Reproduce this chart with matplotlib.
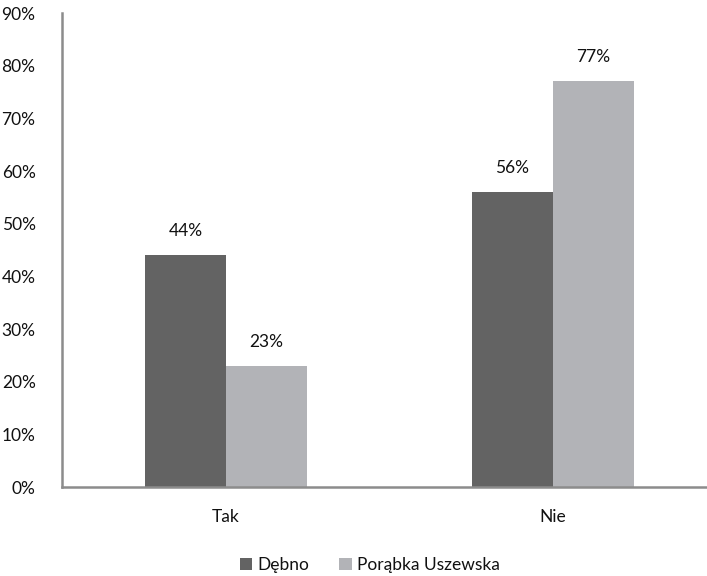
import matplotlib
matplotlib.use("Agg")
import matplotlib.pyplot as plt
import numpy as np

categories = ["Tak", "Nie"]
series_names = ["Dębno", "Porąbka Uszewska"]
debno = [44, 56]
porabka = [23, 77]
yticks = [0, 10, 20, 30, 40, 50, 60, 70, 80, 90]

plt.rcParams['font.family'] = ['Lato', 'DejaVu Sans']

fig = plt.figure(figsize=(7.07, 5.76), dpi=100)
ax = fig.add_axes([62/707, 1-487/576, (707-62)/707, (487-13)/576])

x = np.arange(len(categories))
w = 0.248
c1, c2 = "#636363", "#b2b3b7"
b1 = ax.bar(x - w/2, debno, w, color=c1, label=series_names[0])
b2 = ax.bar(x + w/2, porabka, w, color=c2, label=series_names[1])

fs = 12.5
tc = "#111111"
for bars, vals in ((b1, debno), (b2, porabka)):
    for r, v in zip(bars, vals):
        ax.text(r.get_x() + r.get_width()/2, v + 4.6, f"{v}%", ha="center", va="center",
                fontsize=fs, color=tc)

ax.set_xlim(-0.5015, 1.471)
ax.set_ylim(0, 90)
ax.set_yticks(yticks)
ax.set_yticklabels([f"{t}%" for t in yticks], fontsize=fs)
ax.set_xticks(x)
ax.set_xticklabels(categories, fontsize=fs)
ax.tick_params(axis="both", length=0, colors=tc)
ax.tick_params(axis="y", pad=19)
ax.tick_params(axis="x", pad=16)
for s in ("top", "right"):
    ax.spines[s].set_visible(False)
for s in ("left", "bottom"):
    ax.spines[s].set_color("#8c8c8c")
    ax.spines[s].set_linewidth(1.8)

leg = fig.legend(handles=[b1, b2], labels=series_names, loc="center", bbox_to_anchor=(0.523, 1-565/576),
                 ncol=2, frameon=False, fontsize=fs, handlelength=0.7, handleheight=0.7,
                 handletextpad=0.3, columnspacing=1.75)
for t in leg.get_texts():
    t.set_color(tc)

fig.savefig("out.png", dpi=100)
